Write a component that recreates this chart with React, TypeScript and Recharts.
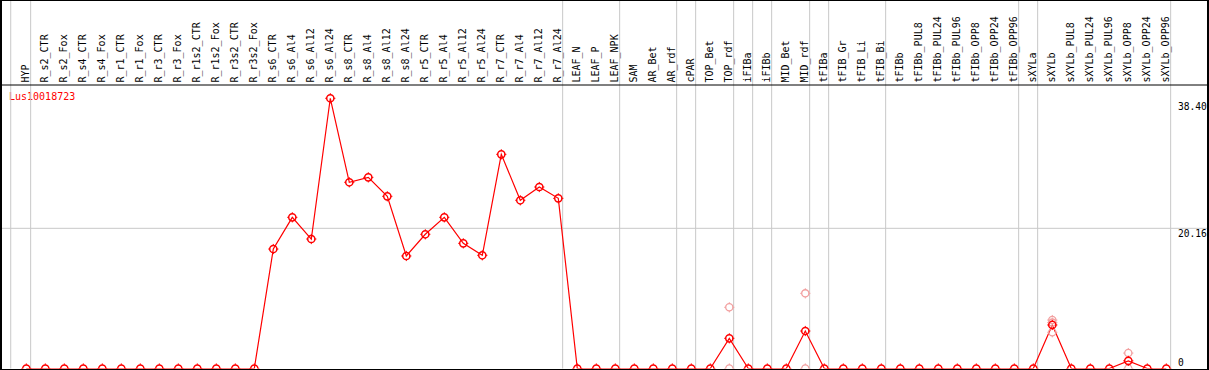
import React from "react";
import { LineChart, Line, XAxis, YAxis, ReferenceLine } from "recharts";

const CATEGORIES = [
  "HYP", "R_s2_CTR", "R_s2_Fox", "R_s4_CTR", "R_s4_Fox", "R_r1_CTR", "R_r1_Fox",
  "R_r3_CTR", "R_r3_Fox", "R_r1s2_CTR", "R_r1s2_Fox", "R_r3s2_CTR", "R_r3s2_Fox",
  "R_s6_CTR", "R_s6_Al4", "R_s6_Al12", "R_s6_Al24", "R_s8_CTR", "R_s8_Al4",
  "R_s8_Al12", "R_s8_Al24", "R_r5_CTR", "R_r5_Al4", "R_r5_Al12", "R_r5_Al24",
  "R_r7_CTR", "R_r7_Al4", "R_r7_Al12", "R_r7_Al24", "LEAF_N", "LEAF_P", "LEAF_NPK",
  "SAM", "AR_Bet", "AR_rdf", "cPAR", "TOP_Bet", "TOP_rdf", "iFIBa", "iFIBb",
  "MID_Bet", "MID_rdf", "tFIBa", "tFIB_Gr", "tFIB_Li", "tFIB_Bi", "tFIBb",
  "tFIBb_PUL8", "tFIBb_PUL24", "tFIBb_PUL96", "tFIBb_OPP8", "tFIBb_OPP24", "tFIBb_OPP96",
  "sXYLa", "sXYLb", "sXYLb_PUL8", "sXYLb_PUL24", "sXYLb_PUL96", "sXYLb_OPP8",
  "sXYLb_OPP24", "sXYLb_OPP96",
];

// mean expression per sample
const MEAN_VALUES = [
  0, 0, 0, 0, 0, 0, 0, 0, 0, 0, 0, 0, 0,
  17.18, 21.74, 18.62, 38.86, 26.78, 27.49, 24.76, 16.18,
  19.3, 21.74, 18.0, 16.28, 30.8, 24.19, 26.1, 24.47,
  0, 0, 0, 0, 0, 0, 0, 0, 4.34, 0, 0, 0, 5.39, 0, 0, 0, 0, 0,
  0, 0, 0, 0, 0, 0, 0, 6.26, 0, 0, 0, 1.1, 0, 0,
];

// individual replicates (only where they differ visibly from the mean)
const REP_A: (number | null)[] = CATEGORIES.map(() => null);
const REP_B: (number | null)[] = CATEGORIES.map(() => null);
const REP_C: (number | null)[] = CATEGORIES.map(() => null);
REP_A[37] = 8.8; REP_B[37] = 0;
REP_A[41] = 10.81; REP_B[41] = 0;
REP_A[54] = 6.97; REP_B[54] = 5.21; REP_C[54] = 6.6;
REP_A[58] = 2.22; REP_B[58] = 0;

// last index of each sample group (separator drawn just after it)
const GROUP_ENDS = [-1, 0, 28, 31, 34, 35, 37, 38, 39, 41, 42, 45, 52, 53, 60];

const Y_TICKS = [0, 20.16, 38.4];
const Y_TICK_LABELS = ["0", "20.16", "38.40"];
const GENE = "Lus10018723";

const Y_MAX = 40.77;
const Y_TOP = 53.0;
const X_DOMAIN: [number, number] = [-1.3842, 62.2474];

const data = CATEGORIES.map((name, i) => ({
  i,
  name,
  mean: MEAN_VALUES[i],
  a: REP_A[i],
  b: REP_B[i],
  c: REP_C[i],
}));

const FONT = "'DejaVu Sans Mono', monospace";

function Marker(props: any) {
  const { cx, cy, color, index, sw } = props;
  if (typeof cx !== "number" || typeof cy !== "number" || props.value == null || props.payload == null) {
    return <g key={`e-${index}`} />;
  }
  const r = 3.6;
  return (
    <g key={`m-${index}`}>
      <circle cx={cx} cy={cy} r={r} fill="none" stroke={color} strokeWidth={sw} />
      <line x1={cx} y1={cy - r} x2={cx} y2={cy - r - 1.5} stroke={color} strokeWidth={1} />
      <line x1={cx} y1={cy + r} x2={cx} y2={cy + r + 1.5} stroke={color} strokeWidth={1} />
      <line x1={cx - r} y1={cy} x2={cx - r - 1.5} y2={cy} stroke={color} strokeWidth={1} />
      <line x1={cx + r} y1={cy} x2={cx + r + 1.5} y2={cy} stroke={color} strokeWidth={1} />
    </g>
  );
}

function CatTick(props: any) {
  const { x, y, payload } = props;
  const label = CATEGORIES[payload.value];
  if (label == null) return null;
  return (
    <text
      transform={`translate(${x + 3.2}, ${y}) rotate(-90)`}
      textAnchor="start"
      fontFamily={FONT}
      fontSize={10}
      fill="#000"
    >
      {label}
    </text>
  );
}

function makeValueLabel(text: string, isZero: boolean) {
  return function ValueLabel(props: any) {
    const vb = props.viewBox || {};
    const x = (vb.x ?? 0) + (vb.width ?? 0) - 31;
    const y = (vb.y ?? 0) + (isZero ? -3 : 9);
    return (
      <text x={x} y={y} textAnchor="start" fontFamily={FONT} fontSize={9.6} fill="#000">
        {text}
      </text>
    );
  };
}

export default function App() {
  return (
    <div style={{ position: "relative", width: 1209, height: 370 }}>
      <style>{`body{margin:0;}`}</style>
      <LineChart
        width={1209}
        height={370}
        data={data}
        margin={{ top: 0, right: 0, bottom: 1.5, left: 0 }}
      >
        <XAxis
          dataKey="i"
          type="number"
          orientation="top"
          domain={X_DOMAIN}
          allowDataOverflow
          ticks={CATEGORIES.map((_, i) => i)}
          interval={0}
          height={85}
          tickLine={false}
          tickSize={0}
          tickMargin={2.5}
          axisLine={{ stroke: "#000", strokeWidth: 1 }}
          tick={<CatTick />}
        />
        <YAxis hide domain={[0, Y_MAX]} allowDataOverflow ticks={Y_TICKS} />
        {GROUP_ENDS.map((g) => (
          <ReferenceLine
            key={`g-${g}`}
            segment={[
              { x: g + (g < 0 ? 0.18 : 0.23), y: 0 },
              { x: g + (g < 0 ? 0.18 : 0.23), y: Y_TOP },
            ]}
            ifOverflow="visible"
            stroke="#c8c8c8"
            strokeWidth={1}
          />
        ))}
        <ReferenceLine y={20.16} stroke="#c8c8c8" strokeWidth={1} ifOverflow="visible" />
        {Y_TICKS.map((v, k) => (
          <ReferenceLine
            key={`yt-${k}`}
            y={v}
            stroke="none"
            ifOverflow="visible"
            label={makeValueLabel(Y_TICK_LABELS[k], v === 0)}
          />
        ))}
        {(["a", "b", "c"] as const).map((k) => (
          <Line
            key={k}
            dataKey={k}
            stroke="none"
            isAnimationActive={false}
            activeDot={false}
            connectNulls={false}
            dot={(p: any) => <Marker {...p} key={`${k}-${p.index}`} color="#f2a0a0" sw={1.3} />}
          />
        ))}
        <Line
          dataKey="mean"
          type="linear"
          stroke="#ff0000"
          strokeWidth={1.2}
          isAnimationActive={false}
          activeDot={false}
          dot={(p: any) => <Marker {...p} key={`mean-${p.index}`} color="#ff0000" sw={1.5} />}
        />
        <text x={9} y={100} fontFamily={FONT} fontSize={10} fill="#ff0000">
          {GENE}
        </text>
      </LineChart>
      <div
        style={{
          position: "absolute",
          left: 0,
          top: 0,
          width: 1209,
          height: 370,
          boxSizing: "border-box",
          borderLeft: "2px solid #000",
          borderTop: "1px solid #000",
          borderRight: "2px solid #000",
          borderBottom: "1px solid #000",
          pointerEvents: "none",
        }}
      />
    </div>
  );
}
